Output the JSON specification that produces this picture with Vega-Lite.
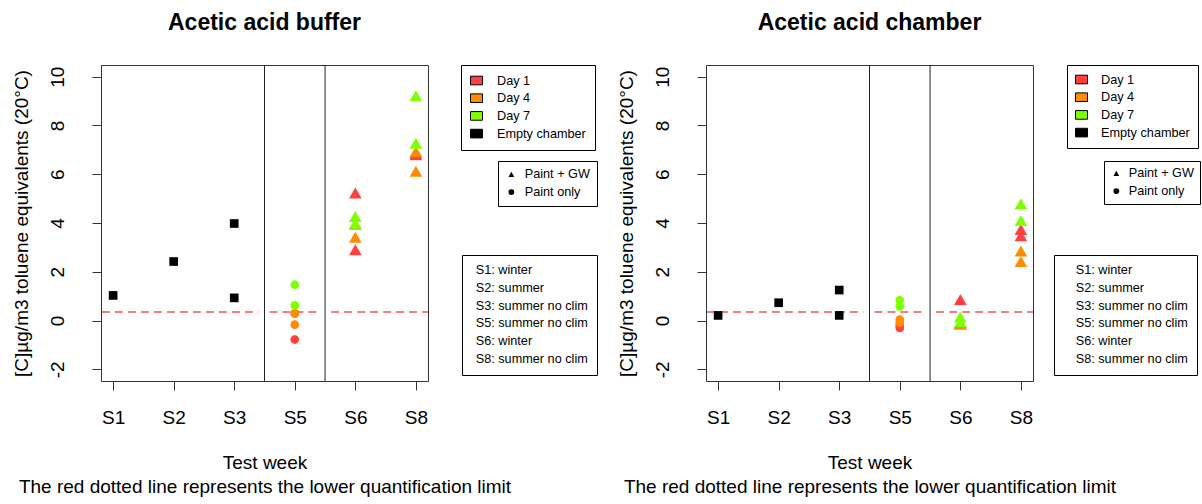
{
  "$schema": "https://vega.github.io/schema/vega-lite/v6.json",
  "background": "white",
  "padding": {"left": 11, "top": 11, "right": 0, "bottom": 0},
  "spacing": 278,
  "bounds": "flush",
  "config": {
    "font": "Liberation Sans",
    "view": {"stroke": "#333", "strokeWidth": 1},
    "axis": {
      "labelFont": "Liberation Sans", "titleFont": "Liberation Sans",
      "labelColor": "black", "titleColor": "black", "tickColor": "#333",
      "domain": false, "grid": false, "labelFontSize": 19, "titleFontSize": 19,
      "titleFontWeight": "normal", "tickSize": 9
    },
    "legend": {
      "labelFont": "Liberation Sans", "labelFontSize": 12.7, "labelColor": "black",
      "strokeColor": "black", "rowPadding": 3.7, "padding": 9
    },
    "title": {"font": "Liberation Sans", "fontSize": 23, "fontWeight": "bold", "color": "black", "offset": 30, "anchor": "middle"}
  },
  "datasets": {
    "separators": [{"pos": 3.5}, {"pos": 4.5}],
    "loq": [
      {"pos": 0.6, "pos2": 3.4, "value": 0.35},
      {"pos": 3.58, "pos2": 4.37, "value": 0.35},
      {"pos": 4.6, "pos2": 6.4, "value": 0.35}
    ],
    "weeks": [
      {"season": "S1: winter"}, {"season": "S2: summer"}, {"season": "S3: summer no clim"},
      {"season": "S5: summer no clim"}, {"season": "S6: winter"}, {"season": "S8: summer no clim"}
    ],
    "buffer": [
      {"week": "S1", "pos": 1, "day": "Empty chamber", "kind": "Empty chamber", "value": 1.03},
      {"week": "S2", "pos": 2, "day": "Empty chamber", "kind": "Empty chamber", "value": 2.42},
      {"week": "S3", "pos": 3, "day": "Empty chamber", "kind": "Empty chamber", "value": 3.98},
      {"week": "S3", "pos": 3, "day": "Empty chamber", "kind": "Empty chamber", "value": 0.93},
      {"week": "S5", "pos": 4, "day": "Day 1", "kind": "Paint only", "value": 0.3},
      {"week": "S5", "pos": 4, "day": "Day 1", "kind": "Paint only", "value": -0.78},
      {"week": "S5", "pos": 4, "day": "Day 4", "kind": "Paint only", "value": 0.28},
      {"week": "S5", "pos": 4, "day": "Day 4", "kind": "Paint only", "value": -0.17},
      {"week": "S5", "pos": 4, "day": "Day 7", "kind": "Paint only", "value": 1.47},
      {"week": "S5", "pos": 4, "day": "Day 7", "kind": "Paint only", "value": 0.62},
      {"week": "S6", "pos": 5, "day": "Day 1", "kind": "Paint + GW", "value": 5.23},
      {"week": "S6", "pos": 5, "day": "Day 1", "kind": "Paint + GW", "value": 2.9},
      {"week": "S6", "pos": 5, "day": "Day 4", "kind": "Paint + GW", "value": 3.42},
      {"week": "S6", "pos": 5, "day": "Day 4", "kind": "Paint + GW", "value": 3.95},
      {"week": "S6", "pos": 5, "day": "Day 7", "kind": "Paint + GW", "value": 4.27},
      {"week": "S6", "pos": 5, "day": "Day 7", "kind": "Paint + GW", "value": 3.99},
      {"week": "S8", "pos": 6, "day": "Day 1", "kind": "Paint + GW", "value": 6.8},
      {"week": "S8", "pos": 6, "day": "Day 1", "kind": "Paint + GW", "value": 6.88},
      {"week": "S8", "pos": 6, "day": "Day 4", "kind": "Paint + GW", "value": 6.93},
      {"week": "S8", "pos": 6, "day": "Day 4", "kind": "Paint + GW", "value": 6.12},
      {"week": "S8", "pos": 6, "day": "Day 7", "kind": "Paint + GW", "value": 9.22},
      {"week": "S8", "pos": 6, "day": "Day 7", "kind": "Paint + GW", "value": 7.27}
    ],
    "chamber": [
      {"week": "S1", "pos": 1, "day": "Empty chamber", "kind": "Empty chamber", "value": 0.21},
      {"week": "S2", "pos": 2, "day": "Empty chamber", "kind": "Empty chamber", "value": 0.73},
      {"week": "S3", "pos": 3, "day": "Empty chamber", "kind": "Empty chamber", "value": 1.25},
      {"week": "S3", "pos": 3, "day": "Empty chamber", "kind": "Empty chamber", "value": 0.21},
      {"week": "S5", "pos": 4, "day": "Day 1", "kind": "Paint only", "value": -0.3},
      {"week": "S5", "pos": 4, "day": "Day 1", "kind": "Paint only", "value": -0.2},
      {"week": "S5", "pos": 4, "day": "Day 4", "kind": "Paint only", "value": 0.04},
      {"week": "S5", "pos": 4, "day": "Day 4", "kind": "Paint only", "value": -0.09},
      {"week": "S5", "pos": 4, "day": "Day 7", "kind": "Paint only", "value": 0.83},
      {"week": "S5", "pos": 4, "day": "Day 7", "kind": "Paint only", "value": 0.58},
      {"week": "S6", "pos": 5, "day": "Day 1", "kind": "Paint + GW", "value": 0.86},
      {"week": "S6", "pos": 5, "day": "Day 1", "kind": "Paint + GW", "value": -0.14},
      {"week": "S6", "pos": 5, "day": "Day 4", "kind": "Paint + GW", "value": -0.12},
      {"week": "S6", "pos": 5, "day": "Day 4", "kind": "Paint + GW", "value": -0.08},
      {"week": "S6", "pos": 5, "day": "Day 7", "kind": "Paint + GW", "value": 0.14},
      {"week": "S6", "pos": 5, "day": "Day 7", "kind": "Paint + GW", "value": -0.04},
      {"week": "S8", "pos": 6, "day": "Day 1", "kind": "Paint + GW", "value": 3.73},
      {"week": "S8", "pos": 6, "day": "Day 1", "kind": "Paint + GW", "value": 3.48},
      {"week": "S8", "pos": 6, "day": "Day 4", "kind": "Paint + GW", "value": 2.85},
      {"week": "S8", "pos": 6, "day": "Day 4", "kind": "Paint + GW", "value": 2.42},
      {"week": "S8", "pos": 6, "day": "Day 7", "kind": "Paint + GW", "value": 4.79},
      {"week": "S8", "pos": 6, "day": "Day 7", "kind": "Paint + GW", "value": 4.1}
    ]
  },
  "resolve": {
    "scale": {"color": "independent", "shape": "independent", "stroke": "independent", "x": "independent", "y": "independent"},
    "legend": {"color": "independent", "shape": "independent", "stroke": "independent"}
  },
  "hconcat": [
    {
      "title": "Acetic acid buffer",
      "width": 327,
      "height": 316,
      "encoding": {
        "x": {"field": "pos", "type": "quantitative", "scale": {"domain": [0.8, 6.2], "nice": false, "zero": false},
          "axis": {"values": [1, 2, 3, 4, 5, 6], "labelExpr": "['','S1','S2','S3','S5','S6','S8'][datum.value]", "labelAngle": 0, "labelPadding": 18,
            "title": ["Test week", "The red dotted line represents the lower quantification limit"], "titlePadding": 26, "titleLineHeight": 24}}
      },
      "layer": [
        {
          "data": {"name": "separators"},
          "mark": {"type": "rule", "color": "#222", "strokeWidth": 1},
          "encoding": {}
        },
        {
          "data": {"name": "loq"},
          "mark": {"type": "rule", "color": "#E00000", "strokeDash": [8, 5], "strokeWidth": 1.1, "clip": true},
          "encoding": {
            "x2": {"field": "pos2"},
            "y": {"field": "value", "type": "quantitative", "scale": {"domain": [-2.48, 10.48], "nice": false, "zero": false},
              "axis": {"values": [-2, 0, 2, 4, 6, 8, 10], "labelExpr": "'' + datum.value", "title": "[C]µg/m3 toluene equivalents (20°C)",
                "labelAngle": 270, "labelAlign": "center", "labelBaseline": "bottom", "labelPadding": 25, "titlePadding": 17}}
          }
        },
        {
          "data": {"name": "buffer"},
          "mark": {"type": "point", "filled": true, "opacity": 1, "color": "black"},
          "encoding": {
            "y": {"field": "value", "type": "quantitative", "scale": {"domain": [-2.48, 10.48], "nice": false, "zero": false},
              "axis": {"values": [-2, 0, 2, 4, 6, 8, 10], "labelExpr": "'' + datum.value", "title": "[C]µg/m3 toluene equivalents (20°C)",
                "labelAngle": 270, "labelAlign": "center", "labelBaseline": "bottom", "labelPadding": 25, "titlePadding": 17}},
            "color": {"field": "day", "type": "nominal",
              "scale": {"domain": ["Day 1", "Day 4", "Day 7", "Empty chamber"], "range": ["#FF4040", "#FF8C00", "#7FFF00", "#000000"]},
              "legend": {"title": null, "orient": "none", "legendX": 360, "legendY": 0, "symbolType": "M-1,-0.72H1V0.72H-1Z", "symbolSize": 144,
                "symbolStrokeColor": "black", "symbolStrokeWidth": 1, "symbolOpacity": 1, "labelOffset": 14}},
            "shape": {"field": "kind", "type": "nominal",
              "scale": {"domain": ["Paint + GW", "Paint only", "Empty chamber"], "range": ["triangle-up", "circle", "square"]},
              "legend": {"title": null, "orient": "none", "legendX": 397, "legendY": 96, "values": ["Paint + GW", "Paint only"], "symbolSize": 34,
                "symbolFillColor": "black", "symbolStrokeColor": "black", "symbolStrokeWidth": 0, "labelOffset": 7, "padding": 7,
                "encode": {"symbols": {"update": {"fill": {"value": "black"}, "opacity": {"value": 1}}}}}},
            "size": {"condition": {"test": "datum.kind === 'Paint + GW'", "value": 161}, "value": 75}
          }
        },
        {
          "data": {"name": "weeks"},
          "mark": {"type": "point", "filled": false, "opacity": 0},
          "encoding": {
            "x": {"value": 0},
            "stroke": {"field": "season", "type": "nominal",
              "scale": {"domain": ["S1: winter", "S2: summer", "S3: summer no clim", "S5: summer no clim", "S6: winter", "S8: summer no clim"],
                "range": ["transparent", "transparent", "transparent", "transparent", "transparent", "transparent"]},
              "legend": {"title": null, "orient": "none", "legendX": 361, "legendY": 190, "symbolSize": 4, "labelOffset": -8,
                "symbolFillColor": "transparent", "symbolOpacity": 0}}
          }
        }
      ]
    },
    {
      "title": "Acetic acid chamber",
      "width": 327,
      "height": 316,
      "encoding": {
        "x": {"field": "pos", "type": "quantitative", "scale": {"domain": [0.8, 6.2], "nice": false, "zero": false},
          "axis": {"values": [1, 2, 3, 4, 5, 6], "labelExpr": "['','S1','S2','S3','S5','S6','S8'][datum.value]", "labelAngle": 0, "labelPadding": 18,
            "title": ["Test week", "The red dotted line represents the lower quantification limit"], "titlePadding": 26, "titleLineHeight": 24}}
      },
      "layer": [
        {
          "data": {"name": "separators"},
          "mark": {"type": "rule", "color": "#222", "strokeWidth": 1},
          "encoding": {}
        },
        {
          "data": {"name": "loq"},
          "mark": {"type": "rule", "color": "#E00000", "strokeDash": [8, 5], "strokeWidth": 1.1, "clip": true},
          "encoding": {
            "x2": {"field": "pos2"},
            "y": {"field": "value", "type": "quantitative", "scale": {"domain": [-2.48, 10.48], "nice": false, "zero": false},
              "axis": {"values": [-2, 0, 2, 4, 6, 8, 10], "labelExpr": "'' + datum.value", "title": "[C]µg/m3 toluene equivalents (20°C)",
                "labelAngle": 270, "labelAlign": "center", "labelBaseline": "bottom", "labelPadding": 25, "titlePadding": 17}}
          }
        },
        {
          "data": {"name": "chamber"},
          "mark": {"type": "point", "filled": true, "opacity": 1, "color": "black"},
          "encoding": {
            "y": {"field": "value", "type": "quantitative", "scale": {"domain": [-2.48, 10.48], "nice": false, "zero": false},
              "axis": {"values": [-2, 0, 2, 4, 6, 8, 10], "labelExpr": "'' + datum.value", "title": "[C]µg/m3 toluene equivalents (20°C)",
                "labelAngle": 270, "labelAlign": "center", "labelBaseline": "bottom", "labelPadding": 25, "titlePadding": 17}},
            "color": {"field": "day", "type": "nominal",
              "scale": {"domain": ["Day 1", "Day 4", "Day 7", "Empty chamber"], "range": ["#FF4040", "#FF8C00", "#7FFF00", "#000000"]},
              "legend": {"title": null, "orient": "none", "legendX": 361, "legendY": 0, "symbolType": "M-1,-0.72H1V0.72H-1Z", "symbolSize": 144,
                "symbolStrokeColor": "black", "symbolStrokeWidth": 1, "symbolOpacity": 1, "labelOffset": 13, "padding": 8}},
            "shape": {"field": "kind", "type": "nominal",
              "scale": {"domain": ["Paint + GW", "Paint only", "Empty chamber"], "range": ["triangle-up", "circle", "square"]},
              "legend": {"title": null, "orient": "none", "legendX": 398, "legendY": 96, "values": ["Paint + GW", "Paint only"], "symbolSize": 34,
                "symbolFillColor": "black", "symbolStrokeColor": "black", "symbolStrokeWidth": 0, "labelOffset": 6, "padding": 6,
                "encode": {"symbols": {"update": {"fill": {"value": "black"}, "opacity": {"value": 1}}}}}},
            "size": {"condition": {"test": "datum.kind === 'Paint + GW'", "value": 161}, "value": 75}
          }
        },
        {
          "data": {"name": "weeks"},
          "mark": {"type": "point", "filled": false, "opacity": 0},
          "encoding": {
            "x": {"value": 0},
            "stroke": {"field": "season", "type": "nominal",
              "scale": {"domain": ["S1: winter", "S2: summer", "S3: summer no clim", "S5: summer no clim", "S6: winter", "S8: summer no clim"],
                "range": ["transparent", "transparent", "transparent", "transparent", "transparent", "transparent"]},
              "legend": {"title": null, "orient": "none", "legendX": 348, "legendY": 190, "symbolSize": 4, "labelOffset": 0,
                "symbolFillColor": "transparent", "symbolOpacity": 0}}
          }
        }
      ]
    }
  ]
}
